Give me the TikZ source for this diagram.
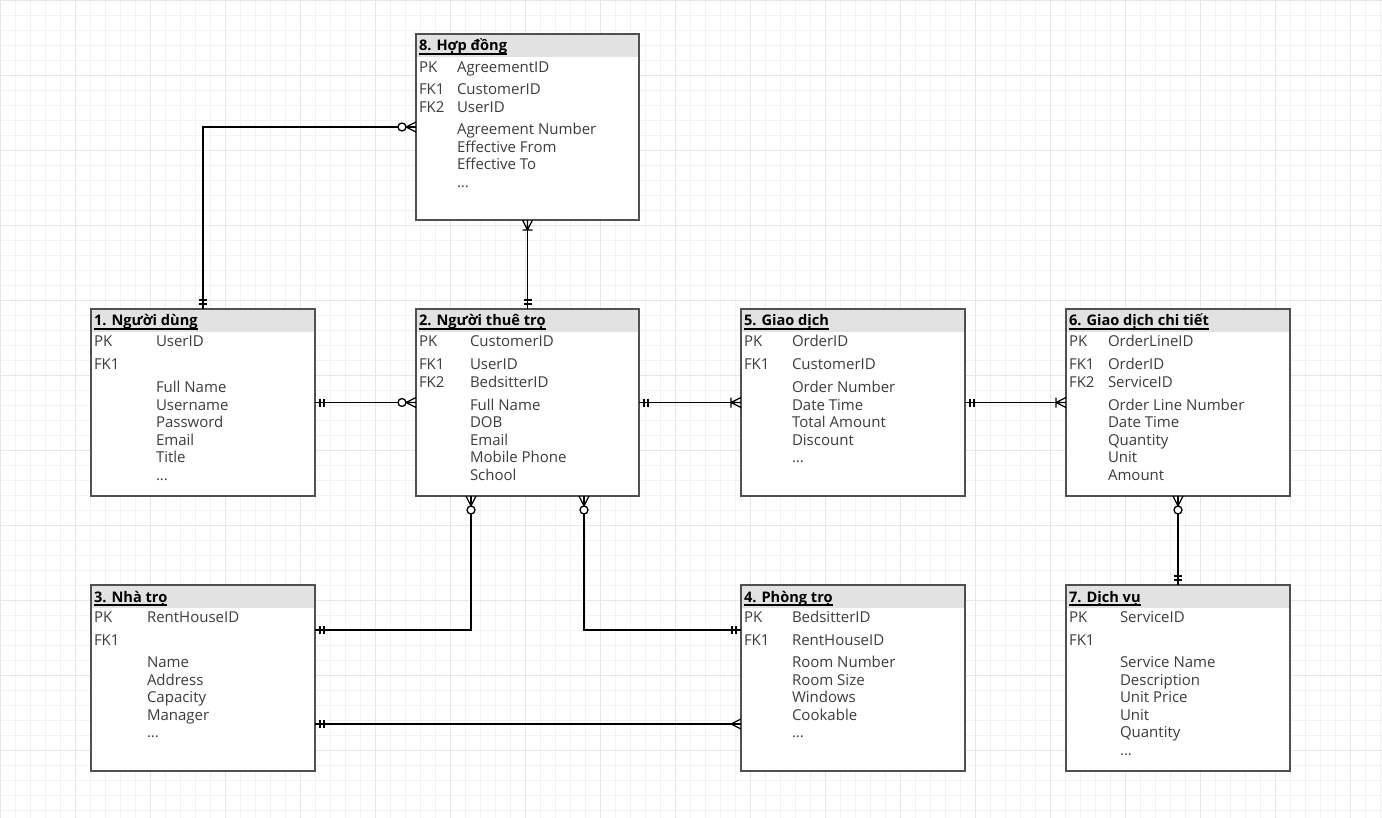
\documentclass[tikz,border=0pt]{standalone}
\usepackage{fontspec}
\setmainfont{Open Sans}
\definecolor{gmin}{HTML}{F2F2F2}
\definecolor{gmaj}{HTML}{E6E6E6}
\definecolor{hdr}{HTML}{E2E2E2}
\definecolor{bord}{HTML}{505050}
\definecolor{txtc}{HTML}{3C3C3C}
\newcommand\erdots{...}
\tikzset{
  tbl/.style={draw=bord, line width=1.6pt, inner sep=0pt, outer sep=0pt, anchor=north west, fill=white},
  txt/.style={anchor=base west, inner sep=0pt, outer sep=0pt, text=txtc, font=\fontsize{15}{18}\selectfont},
  ttl/.style={anchor=base west, inner sep=0pt, outer sep=0pt, text=black, font=\fontsize{14.6}{18}\selectfont\bfseries},
  conn/.style={draw=black, line width=1.3pt},
  uline/.style={draw=black, line width=1.2pt},
  pics/one/.style={code={\draw[conn] (5,-4)--(5,4) (9,-4)--(9,4);}},
  pics/zmany/.style={code={\draw[conn] (0,-5)--(10,0)--(0,5) (0,0)--(10,0);
     \draw[conn, fill=white] (14,0) circle[radius=4pt];}},
  pics/omany/.style={code={\draw[conn] (0,-5)--(10,0)--(0,5) (0,0)--(10,0) (10,-5)--(10,5);}},
  pics/many/.style={code={\draw[conn] (0,-5)--(10,0)--(0,5) (0,0)--(10,0);}},
}
\newcommand\erkeys[3]{% prefix, x, list y/text
  \foreach \yy/\tx [count=\ii] in {#3} {\node[txt] (#1k\ii) at (#2,\yy+5) {\tx};}}
\newcommand\ernames[3]{%
  \foreach \yy/\tx [count=\ii] in {#3} {\node[txt] (#1n\ii) at (#2,\yy+5) {\tx};}}
\newcommand\erhead[2]{% node name, title
  \fill[hdr] ([shift={(0.8,0.8)}]#1.north west) rectangle ([shift={(-0.8,23)}]#1.north east);
  \node[ttl] (#1t) at ([shift={(3,17)}]#1.north west) {#2};
  \draw[uline] ([yshift=-3pt]#1t.base west) -- ([yshift=-3pt]#1t.base east);}
\begin{document}
\begin{tikzpicture}[x=1pt,y=-1pt]
\useasboundingbox (0,0) rectangle (1382,818);
\fill[white] (0,0) rectangle (1382,818);
\foreach \i in {0,15,...,1380} \draw[gmin, line width=0.6pt] (\i,0) -- (\i,818);
\foreach \j in {0,15,...,810} \draw[gmin, line width=0.6pt] (0,\j) -- (1382,\j);
\foreach \i in {0,75,...,1380} \draw[gmaj, line width=0.6pt] (\i,0) -- (\i,818);
\foreach \j in {0,75,...,810} \draw[gmaj, line width=0.6pt] (0,\j) -- (1382,\j);

% tables
\node[tbl, minimum width=223pt, minimum height=186pt] (t8) at (416,34) {};
\node[tbl, minimum width=224pt, minimum height=187pt] (t1) at (91,309) {};
\node[tbl, minimum width=223pt, minimum height=187pt] (t2) at (416,309) {};
\node[tbl, minimum width=224pt, minimum height=187pt] (t5) at (741,309) {};
\node[tbl, minimum width=224pt, minimum height=187pt] (t6) at (1066,309) {};
\node[tbl, minimum width=224pt, minimum height=186pt] (t3) at (91,585) {};
\node[tbl, minimum width=224pt, minimum height=186pt] (t4) at (741,585) {};
\node[tbl, minimum width=224pt, minimum height=186pt] (t7) at (1066,585) {};

\erhead{t8}{8. Hợp đồng}
\erhead{t1}{1. Người dùng}
\erhead{t2}{2. Người thuê trọ}
\erhead{t5}{5. Giao dịch}
\erhead{t6}{6. Giao dịch chi tiết}
\erhead{t3}{3. Nhà trọ}
\erhead{t4}{4. Phòng trọ}
\erhead{t7}{7. Dịch vụ}

\erkeys{t8}{419}{68/PK, 90/FK1, 107.5/FK2}
\ernames{t8}{457}{68/AgreementID, 90/CustomerID, 107.5/UserID, 130/Agreement Number, 147.5/Effective From, 165/Effective To, 182.5/\erdots}

\erkeys{t1}{94}{342/PK, 365/FK1}
\ernames{t1}{156}{342/UserID, 387.5/Full Name, 405/Username, 422.5/Password, 440/Email, 457.5/Title, 475/\erdots}

\erkeys{t2}{419}{342/PK, 365/FK1, 382.5/FK2}
\ernames{t2}{470}{342/CustomerID, 365/UserID, 382.5/BedsitterID, 405/Full Name, 422.5/DOB, 440/Email, 457.5/Mobile Phone, 475/School}

\erkeys{t5}{744}{342/PK, 365/FK1}
\ernames{t5}{792}{342/OrderID, 365/CustomerID, 387.5/Order Number, 405/Date Time, 422.5/Total Amount, 440/Discount, 457.5/\erdots}

\erkeys{t6}{1069}{342/PK, 365/FK1, 382.5/FK2}
\ernames{t6}{1108}{342/OrderLineID, 365/OrderID, 382.5/ServiceID, 405/Order Line Number, 422.5/Date Time, 440/Quantity, 457.5/Unit, 475/Amount}

\erkeys{t3}{94}{617/PK, 640/FK1}
\ernames{t3}{147}{617/RentHouseID, 662.5/Name, 680/Address, 697.5/Capacity, 715/Manager, 732.5/\erdots}

\erkeys{t4}{744}{617/PK, 640/FK1}
\ernames{t4}{792}{617/BedsitterID, 640/RentHouseID, 662.5/Room Number, 680/Room Size, 697.5/Windows, 715/Cookable, 732.5/\erdots}

\erkeys{t7}{1069}{617/PK, 640/FK1}
\ernames{t7}{1120}{617/ServiceID, 662.5/Service Name, 680/Description, 697.5/Unit Price, 715/Unit, 732.5/Quantity, 750/\erdots}

% attachment points
\path (t2.south west) ++(55,0) coordinate (p2a);
\path (t2.south west) ++(168,0) coordinate (p2b);
\path (t3.north east) ++(0,45) coordinate (p3a);
\path (t3.north east) ++(0,139) coordinate (p3b);
\path (t4.north west) ++(0,45) coordinate (p4a);
\path (t4.north west) ++(0,139) coordinate (p4b);

% connectors
\draw[conn] (t1.north) |- (t8.west);
\draw[conn] (t8.south) -- (t2.north);
\draw[conn] (t1.east) -- (t2.west);
\draw[conn] (t2.east) -- (t5.west);
\draw[conn] (t5.east) -- (t6.west);
\draw[conn] (t6.south) -- (t7.north);
\draw[conn] (p2a) |- (p3a);
\draw[conn] (p2b) |- (p4a);
\draw[conn] (p3b) -- (p4b);

% end symbols
\pic[rotate=90] at (t1.north) {one};
\pic[rotate=180] at (t8.west) {zmany};
\pic[rotate=-90] at (t8.south) {omany};
\pic[rotate=90] at (t2.north) {one};
\pic at (t1.east) {one};
\pic[rotate=180] at (t2.west) {zmany};
\pic at (t2.east) {one};
\pic[rotate=180] at (t5.west) {omany};
\pic at (t5.east) {one};
\pic[rotate=180] at (t6.west) {omany};
\pic[rotate=-90] at (t6.south) {zmany};
\pic[rotate=90] at (t7.north) {one};
\pic[rotate=-90] at (p2a) {zmany};
\pic at (p3a) {one};
\pic[rotate=-90] at (p2b) {zmany};
\pic[rotate=180] at (p4a) {one};
\pic at (p3b) {one};
\pic[rotate=180] at (p4b) {many};
\end{tikzpicture}
\end{document}
